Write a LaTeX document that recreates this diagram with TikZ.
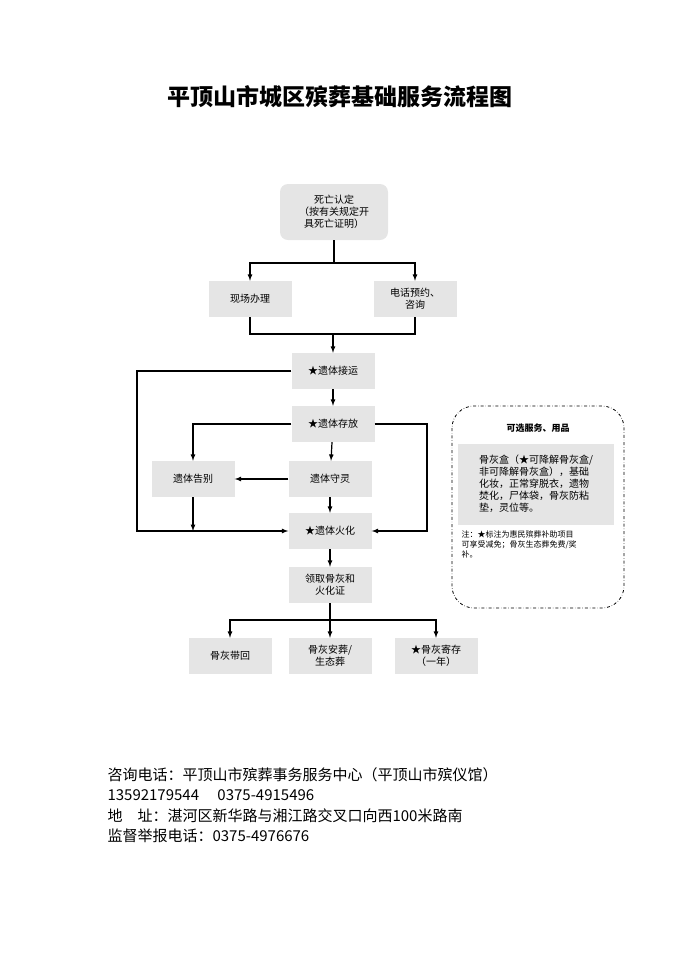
\documentclass[tikz,border=0pt]{standalone}
\usepackage{fontspec}
\setmainfont{Noto Sans CJK SC}
\usetikzlibrary{arrows}
\usetikzlibrary{calc}
\usetikzlibrary{positioning}

\begin{document}
\begin{tikzpicture}[
	x=1pt, y=-1pt, > = latex,
  box/.style = {fill=black!10, minimum width=83pt, minimum height=36pt, align=center, font=\fontsize{10}{12}\selectfont, inner sep=1pt},
  line/.style = {line width=1.2pt},
  arr/.style = {->, line width=1.2pt}
  ]
	\useasboundingbox (0,0) rectangle (679,962);

	\node[font=\fontsize{23}{26}\selectfont\bfseries] (title) at (340,97) {平顶山市城区殡葬基础服务流程图};

	\node[box, rounded corners=8pt, minimum width=108pt, minimum height=56pt] (death) at (334,212) {死亡认定\\（按有关规定开\\具死亡证明）};
	\node[box] (site) at (250,299) {现场办理};
	\node[box] (phone) at (415,299) {电话预约、\\咨询};
	\node[box] (pickup) at (333,371) {★遗体接运};
	\node[box] (store) at (333,424) {★遗体存放};
	\node[box] (vigil) at (330,479) {遗体守灵};
	\node[box] (farewell) at (193,479) {遗体告别};
	\node[box] (crem) at (330,531) {★遗体火化};
	\node[box] (ash) at (330,585) {领取骨灰和\\火化证};
	\node[box] (home) at (230,656) {骨灰带回};
	\node[box] (bury) at (330,656) {骨灰安葬/\\生态葬};
	\node[box] (keep) at (436,656) {★骨灰寄存\\（一年）};

	\coordinate (split1) at (334,263);
	\coordinate (join1) at (333,334);
	\coordinate (split2) at (330,620);

	\draw[line] (death) -- (split1);
	\draw[arr] (split1) -| (site);
	\draw[arr] (split1) -| (phone);
	\draw[line] (site) |- (join1);
	\draw[line] (phone) |- (join1);
	\draw[arr] (join1) -- (pickup);
	\draw[arr] (pickup) -- (store);
	\draw[arr] (store) -- (vigil);
	\draw[arr] (vigil) -- (farewell);
	\draw[arr] (vigil) -- (crem);
	\draw[arr] (store.west) -| (farewell.north);
	\draw[arr] (farewell.south) -- (farewell.south |- crem);
	\draw[arr] (pickup.west) -| (137,531) -- (crem.west);
	\draw[arr] (store.east) -| (427,531) -- (crem.east);
	\draw[arr] (crem) -- (ash);
	\draw[line] (ash) -- (split2);
	\draw[arr] (split2) -| (home);
	\draw[arr] (split2) -- (bury);
	\draw[arr] (split2) -| (keep);

	% optional services
	\draw[dash dot, line width=0.8pt, rounded corners=22pt] (452,406) rectangle (624,608);
	\node[font=\fontsize{9}{11}\selectfont\bfseries] (optitle) at (538,428) {可选服务、用品};
	\node[box, minimum width=156pt, minimum height=81pt, align=left] (goods) at (536,484) {骨灰盒（★可降解骨灰盒/\\非可降解骨灰盒），基础\\化妆，正常穿脱衣，遗物\\焚化，尸体袋，骨灰防粘\\垫，灵位等。};
	\node[font=\fontsize{8}{10}\selectfont, align=left, anchor=north west] (note) at (458,527) {注：★标注为惠民殡葬补助项目\\可享受减免；骨灰生态葬免费/奖\\补。};

	\node[font=\fontsize{15}{20.5}\selectfont, align=left, anchor=north west] (contact) at (104,764) {咨询电话：平顶山市殡葬事务服务中心（平顶山市殡仪馆）\\13592179544\quad\ 0375-4915496\\地\quad 址：湛河区新华路与湘江路交叉口向西100米路南\\监督举报电话：0375-4976676};
\end{tikzpicture}
\end{document}
